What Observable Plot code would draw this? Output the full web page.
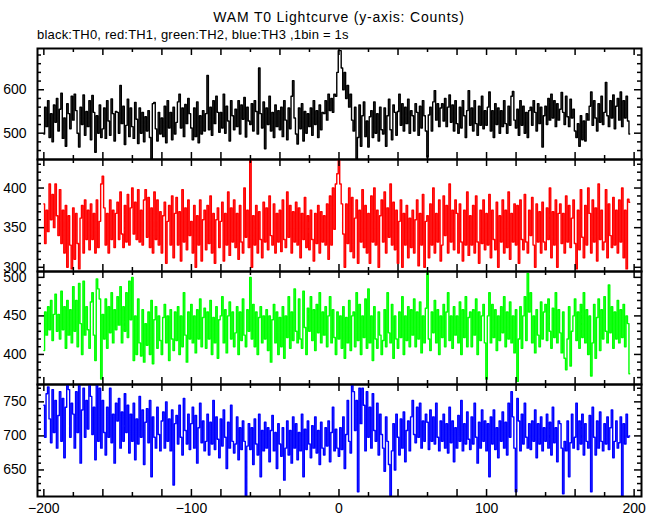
<!DOCTYPE html>
<html><head><meta charset="utf-8">
<script src="https://cdn.jsdelivr.net/npm/d3@7"></script>
<script src="https://cdn.jsdelivr.net/npm/@observablehq/plot@0.6"></script>
<style>
body{margin:0;background:#fff;}
#chart{position:relative;width:660px;height:515px;font-family:"Liberation Sans",Arial,Helvetica,sans-serif;color:#000;overflow:hidden;}
#title{position:absolute;left:0;width:678px;top:10px;text-align:center;font-size:14px;line-height:14px;letter-spacing:0.8px;white-space:nowrap;}
#subtitle{position:absolute;left:37px;top:28px;font-size:13px;line-height:13px;letter-spacing:0.2px;white-space:nowrap;}
.panel{position:absolute;left:0;}
</style>
</head><body>
<div id="chart">
  <div id="title"></div>
  <div id="subtitle"></div>
</div>
<script>
const titleText = "WAM T0 Lightcurve (y-axis: Counts)";
const subtitleText = "black:TH0, red:TH1, green:TH2, blue:TH3 ,1bin = 1s";

// time bins (1 bin = 1 s), starting at -200 s
const startSecond = -200;

// TH0 (black)
const th0 = [
498,560,515,575,490,545,480,565,525,580,
505,555,592,488,535,470,568,545,510,585,
530,590,552,500,468,560,520,588,495,550,
515,575,485,587,548,456,540,500,565,490,
510,558,488,575,528,495,579,545,482,550,
548,500,610,522,562,474,518,578,492,558,
515,488,571,532,476,558,500,548,480,538,
505,552,490,441,568,571,510,482,548,498,
535,492,562,478,575,512,548,485,560,498,
525,572,590,512,558,492,566,522,580,545,
512,485,558,492,572,478,540,498,552,505,
545,633,508,560,495,575,522,585,548,502,
548,512,590,500,562,528,482,575,540,508,
555,515,575,498,565,532,582,491,560,528,
520,568,505,575,550,498,650,545,512,572,
464,558,520,585,505,548,490,565,515,552,
508,560,492,575,530,485,558,510,585,621,
535,498,475,558,510,568,482,550,500,545,
515,558,495,575,520,552,490,565,508,548,
545,575,530,590,552,580,548,590,585,640,
690,690,650,600,640,580,610,560,590,530,
505,560,441,490,565,470,540,572,492,528,
468,538,552,490,572,500,545,482,560,508,
498,558,470,540,578,508,485,565,548,495,
550,590,518,568,505,560,522,578,500,552,
540,505,568,548,495,562,512,575,540,505,
445,542,560,505,572,598,530,568,515,558,
568,528,580,515,560,588,525,565,505,575,
522,500,560,512,575,540,490,552,598,518,
558,505,575,522,495,562,518,585,510,552,
518,560,595,505,552,490,568,520,558,500,
552,515,575,522,500,562,518,585,596,530,
512,555,495,575,518,562,500,548,490,552,
560,518,575,548,505,568,522,560,468,540,
562,520,580,530,590,535,575,515,568,530,
555,594,548,520,585,538,515,578,535,555,
505,490,522,470,540,485,528,482,545,530,
562,595,518,575,535,505,568,525,585,520,
548,617,540,515,575,535,588,510,562,580,
530,595,515,575,535,585,528,498
];

// TH1 (red)
const th1 = [
380,330,372,345,405,360,392,350,405,365,
340,398,330,372,318,378,300,365,328,298,
375,310,368,330,298,362,378,318,385,335,
372,322,380,335,368,318,385,325,358,405,
415,375,328,368,318,385,335,372,325,368,
382,335,395,342,325,378,332,392,328,375,
400,342,382,335,398,332,372,328,385,398,
338,388,325,375,318,395,335,385,328,370,
318,365,382,305,358,378,328,390,312,368,
388,328,370,308,398,332,375,322,385,340,
358,318,378,300,365,328,385,308,360,372,
322,378,330,390,318,368,305,360,375,325,
358,382,308,368,328,395,315,375,332,385,
325,368,310,378,332,318,400,338,372,325,
440,300,365,328,378,318,370,335,312,382,
332,375,322,390,340,328,380,318,368,332,
372,320,385,335,325,395,338,378,318,370,
332,382,328,375,312,368,335,388,325,365,
322,372,335,308,368,330,378,318,370,332,
365,328,380,310,390,328,400,348,405,418,
440,405,380,342,300,380,330,400,320,388,
312,362,385,305,372,332,398,325,378,318,
368,305,390,332,400,328,372,300,365,385,
332,395,318,375,338,405,328,382,322,372,
305,358,385,300,368,328,378,312,362,325,
372,318,360,385,302,368,328,392,300,358,
365,312,380,328,400,318,368,332,385,308,
328,390,340,378,318,405,332,372,322,385,
368,318,380,332,308,372,328,395,315,365,
328,378,318,390,332,305,372,330,385,322,
368,328,392,312,372,335,322,382,300,365,
332,385,318,372,325,395,310,368,332,380,
328,378,305,385,335,322,392,332,318,372,
340,388,328,300,380,332,370,318,382,332,
322,375,335,400,312,370,328,385,300,368,
380,330,368,318,390,332,378,325,362,385,
330,298,372,322,398,338,312,378,328,400,
368,318,385,332,375,308,405,335,372,322,
332,398,312,380,340,325,388,328,372,318,
385,332,400,312,372,298,386,382
];

// TH2 (green)
const th2 = [
405,455,425,462,432,470,418,452,478,430,
452,420,482,432,462,408,470,425,458,415,
488,430,470,410,492,440,400,495,425,462,
432,408,468,480,425,392,498,485,472,368,
452,420,472,408,462,428,480,415,458,432,
475,438,488,415,462,430,480,422,495,445,
500,392,450,400,472,415,398,458,390,440,
412,455,400,470,388,445,462,408,450,418,
400,448,465,415,450,392,458,420,405,455,
418,462,400,450,410,480,425,390,455,420,
465,415,450,402,458,420,472,410,448,460,
408,455,420,470,400,448,415,462,395,445,
450,475,415,458,402,450,468,420,455,410,
428,462,400,455,418,472,425,410,458,430,
500,420,465,410,455,400,448,462,415,450,
420,458,405,450,390,445,465,415,455,400,
448,410,462,395,450,422,475,408,455,418,
485,430,415,472,420,408,482,435,400,460,
430,475,418,458,405,465,428,480,415,455,
425,462,410,450,475,415,458,422,400,455,
420,450,408,462,395,448,415,470,405,450,
455,410,480,418,465,400,450,422,472,408,
485,415,450,392,462,420,408,455,425,400,
418,458,410,480,428,415,465,395,450,420,
408,455,422,475,400,450,418,462,410,458,
425,472,410,455,420,468,402,450,415,460,
508,420,405,455,428,470,415,458,400,450,
422,465,410,455,480,418,450,408,462,425,
450,415,468,400,458,422,475,410,448,455,
410,458,425,472,400,455,418,450,465,415,
368,450,480,415,465,422,458,405,450,418,
462,428,475,410,455,420,468,415,450,402,
458,365,420,462,408,450,475,418,505,455,
480,415,450,402,458,425,410,468,420,455,
465,418,472,430,408,460,422,480,415,458,
428,402,455,395,380,420,462,385,430,450,
472,418,455,408,465,422,480,415,458,400,
450,372,415,465,395,448,472,405,458,420,
475,430,415,490,428,462,408,455,420,470,
415,458,422,465,410,450,440,375
];

// TH3 (blue)
const th3 = [
745,698,762,772,725,690,768,705,752,682,
730,765,692,755,668,742,775,768,698,748,
732,682,765,705,775,660,738,770,698,752,
710,776,758,702,742,665,776,692,770,682,
752,705,672,742,698,770,690,732,660,748,
722,755,682,735,692,762,705,745,675,732,
692,748,665,725,688,758,698,738,658,720,
740,690,752,640,728,698,682,742,702,678,
722,735,682,750,692,725,678,738,628,718,
730,688,745,698,672,755,708,688,732,680,
718,742,682,730,660,712,748,690,722,678,
692,732,672,720,688,752,680,728,695,668,
725,685,738,698,652,720,682,745,692,675,
688,728,665,712,680,722,692,612,685,718,
680,712,658,725,688,672,732,640,708,678,
720,682,712,662,708,730,678,705,652,718,
688,670,712,635,682,722,672,708,660,728,
682,718,665,705,678,732,640,710,680,722,
688,668,715,682,728,675,708,658,720,682,
672,712,685,722,662,705,742,678,710,682,
670,712,680,728,652,702,752,692,675,775,
765,708,752,618,770,718,770,745,678,765,
698,742,682,762,708,692,748,672,732,702,
682,648,728,692,658,612,678,718,650,732,
698,672,725,682,735,662,708,722,678,728,
752,702,690,742,698,748,682,722,692,732,
720,680,738,692,728,688,748,698,678,722,
692,732,682,718,675,742,690,722,662,712,
682,730,692,752,678,718,688,735,695,680,
728,688,748,698,660,720,682,738,692,722,
678,718,640,728,688,738,680,712,668,722,
692,735,682,720,672,748,698,765,728,682,
618,755,722,678,732,688,748,698,682,718,
680,722,692,738,668,718,688,728,678,712,
692,732,682,720,672,742,690,712,662,722,
718,682,615,692,678,722,640,690,732,682,
698,748,680,722,688,732,672,718,692,682,
730,618,742,698,672,722,682,735,692,678,
718,688,728,680,712,738,668,692,722,682,
690,728,612,718,688,732,698,700
];

// axis settings
const xDomain = [-204.3, 205];
const xTickValues = [-200,-180,-160,-140,-120,-100,-80,-60,-40,-20,0,20,40,60,80,100,120,140,160,180,200];
const xLabelValues = [-200,-100,0,100,200];

const panels = [
  {values: th0, color: "#000000", yDomain: [439.4, 695], yTicks: [460,480,500,520,540,560,580,600,620,640,660,680], yLabels: [500,600], top: 48, bottom: 159},
  {values: th1, color: "#ff0000", yDomain: [294.7, 436], yTicks: [300,310,320,330,340,350,360,370,380,390,400,410,420,430], yLabels: [300,350,400], top: 159, bottom: 271},
  {values: th2, color: "#00ff00", yDomain: [361, 507.6], yTicks: [370,380,390,400,410,420,430,440,450,460,470,480,490,500], yLabels: [400,450,500], top: 271, bottom: 384},
  {values: th3, color: "#0000ff", yDomain: [611, 775.5], yTicks: [620,630,640,650,660,670,680,690,700,710,720,730,740,750,760,770], yLabels: [650,700,750], top: 384, bottom: 496}
];

document.getElementById("title").textContent = titleText;
document.getElementById("subtitle").textContent = subtitleText;

const W = 660, ML = 37, MR = 19;
const innerW = W - ML - MR;
const fmt = d => d < 0 ? "\u2212" + (-d) : String(d);

panels.forEach((p, k) => {
  const isLast = k === panels.length - 1;
  const innerH = p.bottom - p.top;
  const MB = isLast ? 20 : 0;
  const data = p.values.map((v, i) => ({t: startSecond + i, v}));
  const xLong = xTickValues.filter(d => d % 40 === 0 || d % 100 === 0);
  const xShort = xTickValues.filter(d => !(d % 40 === 0 || d % 100 === 0));
  const yLong = p.yTicks.filter(d => p.yLabels.includes(d));
  const yShort = p.yTicks.filter(d => !p.yLabels.includes(d));
  const marks = [
    Plot.lineY(data, {x: "t", y: "v", stroke: p.color, strokeWidth: 1.4, curve: "step", clip: true}),
    Plot.tickX(xShort, {x: d => d, stroke: "#000", strokeWidth: 1.5, insetTop: innerH - 4}),
    Plot.tickX(xLong, {x: d => d, stroke: "#000", strokeWidth: 1.5, insetTop: innerH - 7}),
    Plot.tickX(xShort, {x: d => d, stroke: "#000", strokeWidth: 1.5, insetBottom: innerH - 4}),
    Plot.tickX(xLong, {x: d => d, stroke: "#000", strokeWidth: 1.5, insetBottom: innerH - 7}),
    Plot.tickY(yShort, {y: d => d, stroke: "#000", strokeWidth: 1.5, insetRight: innerW - 4}),
    Plot.tickY(yLong, {y: d => d, stroke: "#000", strokeWidth: 1.5, insetRight: innerW - 7}),
    Plot.tickY(yShort, {y: d => d, stroke: "#000", strokeWidth: 1.5, insetLeft: innerW - 4}),
    Plot.tickY(yLong, {y: d => d, stroke: "#000", strokeWidth: 1.5, insetLeft: innerW - 7}),
    Plot.frame({stroke: "#000", strokeWidth: 2}),
    Plot.axisY(p.yLabels, {anchor: "left", tickSize: 0, tickPadding: 11, fontSize: 14, tickFormat: d => String(d), label: null})
  ];
  if (isLast) {
    marks.push(Plot.axisX(xLabelValues, {anchor: "bottom", tickSize: 0, tickPadding: 7, fontSize: 14, tickFormat: fmt, label: null}));
  }
  const svg = Plot.plot({
    width: W,
    height: innerH + MB,
    marginLeft: ML,
    marginRight: MR,
    marginTop: 0,
    marginBottom: MB,
    x: {domain: xDomain, axis: null},
    y: {domain: p.yDomain, axis: null},
    style: {background: "none", overflow: "visible", fontFamily: "'Liberation Sans', Arial, Helvetica, sans-serif", color: "#000"},
    marks
  });
  svg.classList.add("panel");
  svg.style.top = p.top + "px";
  document.getElementById("chart").appendChild(svg);
});
</script>
</body></html>
